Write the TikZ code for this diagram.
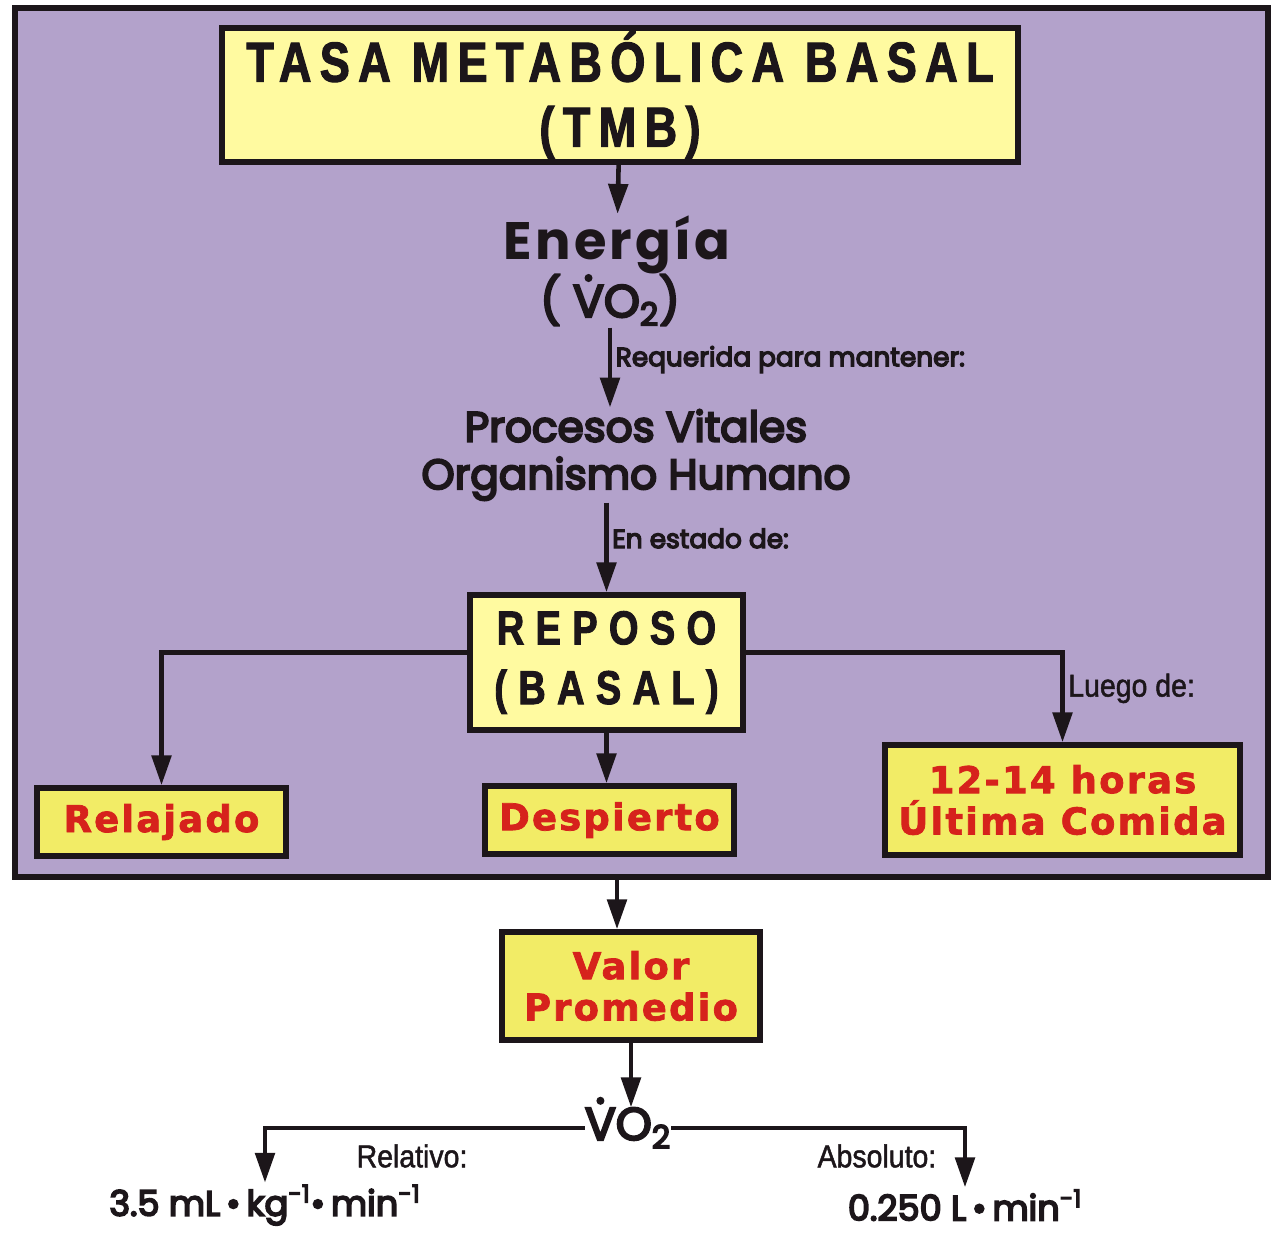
\documentclass[tikz,border=0pt]{standalone}
\usepackage{fontspec}
\usepackage{tikz}
\usetikzlibrary{arrows.meta,positioning}

\setmainfont{Poppins}
\newfontfamily\gothfont[FakeBold=5]{Poppins}
\newfontfamily\energyfont[LetterSpace=6]{Poppins}
\newfontfamily\titlefont[FakeStretch=0.8,LetterSpace=15,FakeBold=2]{Liberation Sans}
\newfontfamily\reposofont[FakeStretch=0.8,LetterSpace=24,FakeBold=2]{Liberation Sans}
\newfontfamily\narrowfont[FakeStretch=0.9,FakeBold=1.5]{Liberation Sans}
\newfontfamily\widefont[LetterSpace=6,FakeBold=2]{DejaVu Sans}

\definecolor{panel}{RGB}{179,162,203}
\definecolor{paleyel}{RGB}{255,250,160}
\definecolor{yel}{RGB}{242,236,102}
\definecolor{tred}{RGB}{214,34,28}
\definecolor{ink}{RGB}{28,22,26}

% V with a dot on top
\newcommand\Vdot{\ooalign{V\cr\hidewidth\raisebox{.8em}{.}\hidewidth\cr}}

\begin{document}
\begin{tikzpicture}[x=0.02cm, y=-0.02cm,
    conn/.style={color=ink, line width=2.6pt, -{Triangle[length=17pt,width=11pt]}},
    titlebox/.style={draw=ink, line width=3.2pt, fill=paleyel, text=ink, align=center, inner sep=0pt},
    redbox/.style={draw=ink, line width=3.2pt, fill=yel, text=tred, align=center, inner sep=0pt,
                   font=\widefont\bfseries\fontsize{21}{23.5}\selectfont},
    plain/.style={text=ink, align=center, inner sep=1pt},
    lab/.style={text=ink, inner sep=2pt, font=\gothfont\fontsize{15}{18}\selectfont},
    narrowlab/.style={text=ink, inner sep=2pt, font=\narrowfont\fontsize{18}{20}\selectfont}]
  \useasboundingbox (0,0) rectangle (1274,1232);

  % purple panel
  \draw[draw=ink, line width=3pt, fill=panel] (15,8) rectangle (1268,877);
  \coordinate (pbot) at (617,877);

  \node[titlebox, minimum width=15.92cm, minimum height=2.68cm,
        font=\titlefont\bfseries\fontsize{32}{37}\selectfont] (tmb) at (620,95) {TASA METABÓLICA BASAL\\(TMB)};
  \node[plain, font=\energyfont\bfseries\fontsize{30}{36}\selectfont] (ener) at (617,245) {Energía};
  \node[plain, font=\gothfont\fontsize{26}{32}\selectfont] (vo) at (610,300) {( \Vdot O\textsubscript{2})};
  \node[plain, font=\gothfont\fontsize{24}{27}\selectfont] (pv) at (636,455) {Procesos Vitales\\Organismo Humano};
  \node[titlebox, minimum width=5.46cm, minimum height=2.7cm,
        font=\reposofont\bfseries\fontsize{27}{34}\selectfont] (rep) at (606.5,662.5) {REPOSO\\(BASAL)};

  \node[redbox, minimum width=4.98cm, minimum height=1.36cm] (rel)  at (161.5,822) {Relajado};
  \node[redbox, minimum width=4.98cm, minimum height=1.36cm] (desp) at (609.5,820) {Despierto};
  \node[redbox, minimum width=7.1cm, minimum height=2.2cm]   (ult)  at (1062.5,800) {12-14 horas\\Última Comida};
  \node[redbox, minimum width=5.16cm, minimum height=2.16cm] (val)  at (631,986) {Valor\\Promedio};

  \node[plain, inner sep=0pt, font=\gothfont\fontsize{26}{32}\selectfont] (vob) at (628,1128) {\Vdot O\textsubscript{2}};
  \node[plain, font=\gothfont\fontsize{20}{24}\selectfont] (relv) at (265,1205)
       {3.5 mL\,\textbullet\,kg\textsuperscript{-1}\textbullet\,min\textsuperscript{-1}};
  \node[plain, font=\gothfont\fontsize{20}{24}\selectfont] (absv) at (965,1205)
       {0.250 L\,\textbullet\,min\textsuperscript{-1}};

  \path[conn] (tmb) edge (ener)
              (vo) edge node[lab, right, pos=.4] {Requerida para mantener:} (vo |- pv.north)
              (pv.south -| rep.north) edge node[lab, right, pos=.4] {En estado de:} (rep.north)
              (rep) edge (rep.south |- desp.north)
              (pbot) edge (pbot |- val.north)
              (val) edge (val |- vob.north);

  \draw[conn] ([yshift=.2cm]rep.west) -| (rel.north);
  \draw[conn] ([yshift=.2cm]rep.east) -| node[narrowlab, right, pos=.7] {Luego de:} (ult.north);
  \draw[conn] (vob.west) -| node[narrowlab, below=6pt, pos=.27] {Relativo:} (relv.north);
  \draw[conn] (vob.east) -| node[narrowlab, below=6pt, pos=.35] {Absoluto:} (absv.north);
\end{tikzpicture}
\end{document}
